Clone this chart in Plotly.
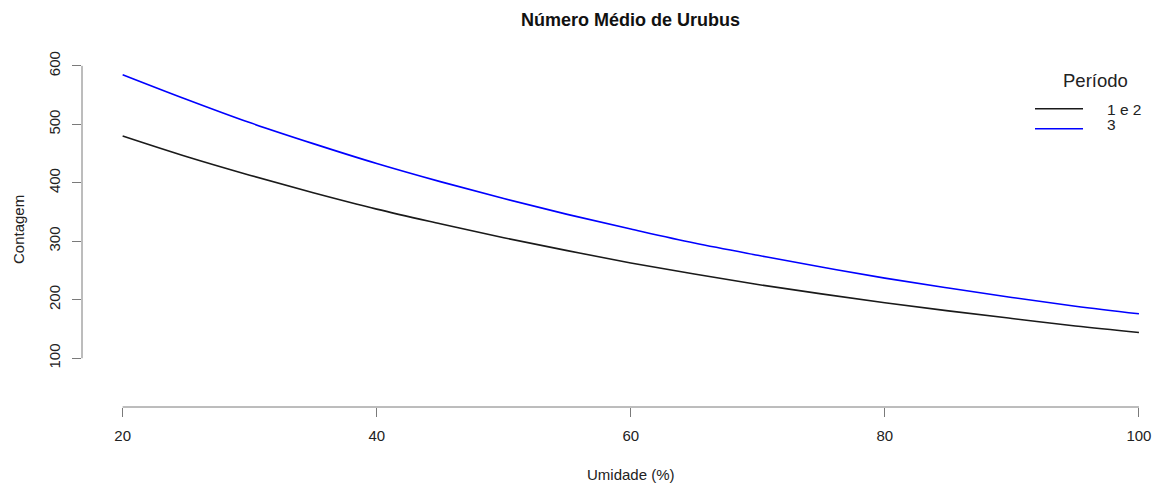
import plotly.graph_objects as go

# Data
umidade = [20, 25, 30, 35, 40, 45, 50, 55, 60, 65, 70, 75, 80, 85, 90, 95, 100]
periodo_12 = [480, 445, 413, 383, 355, 330, 306, 284, 263, 244, 226, 210, 195, 181, 168, 155, 144]
periodo_3 = [585, 543, 503, 467, 433, 402, 373, 346, 321, 297, 276, 256, 237, 220, 204, 189, 176]

x_ticks = [20, 40, 60, 80, 100]
y_ticks = [100, 200, 300, 400, 500, 600]
series_names = ["1 e 2", "3"]
series_colors = ["#1a1a1a", "#0000ff"]

FONT = "Liberation Sans, Arial, Helvetica, sans-serif"
W, H = 1158, 484
L, R, T, B = 82, 0, 53, 77

fig = go.Figure()
for name, ys, col in zip(series_names, [periodo_12, periodo_3], series_colors):
    fig.add_trace(go.Scatter(x=umidade, y=ys, mode="lines", name=name,
                             line=dict(color=col, width=1.6, shape="spline"),
                             showlegend=False))

axis_col = "#7a7a7a"
fig.update_layout(
    width=W, height=H,
    margin=dict(l=L, r=R, t=T, b=B),
    paper_bgcolor="white", plot_bgcolor="white",
    font=dict(family=FONT, size=15, color="#222"),
    xaxis=dict(range=[16.8, 101.5], tickmode="array", tickvals=x_ticks,
               showgrid=False, zeroline=False, showline=False,
               ticks="outside", ticklen=9, tickcolor=axis_col, tickwidth=1,
               ticklabelstandoff=6, tickfont=dict(size=15, color="#222")),
    yaxis=dict(range=[16.6, 622], tickmode="array", tickvals=y_ticks,
               showgrid=False, zeroline=False, showline=False,
               ticks="outside", ticklen=9, tickcolor=axis_col, tickwidth=1,
               tickangle=-90, ticklabelstandoff=6, tickfont=dict(size=15, color="#222")),
)

# R-style axis lines spanning only the tick range
fig.add_shape(type="line", xref="x", yref="paper", x0=x_ticks[0], x1=x_ticks[-1], y0=0, y1=0,
              line=dict(color=axis_col, width=1))
fig.add_shape(type="line", xref="paper", yref="y", x0=0, x1=0, y0=y_ticks[0], y1=y_ticks[-1],
              line=dict(color=axis_col, width=1))

pw = W - L - R
ph = H - T - B
def px(xp):
    return (xp - L) / pw
def py(yp):
    return (H - B - yp) / ph

# Title and axis titles
fig.add_annotation(text="<b>Número Médio de Urubus</b>", xref="x", yref="paper",
                   x=60, y=py(20), showarrow=False, font=dict(size=18, color="#111"),
                   xanchor="center", yanchor="middle")
fig.add_annotation(text="Umidade (%)", xref="x", yref="paper", x=60, y=py(474),
                   showarrow=False, font=dict(size=15, color="#222"),
                   xanchor="center", yanchor="middle")
fig.add_annotation(text="Contagem", xref="paper", yref="paper", x=px(18), y=py(230),
                   showarrow=False, textangle=-90, font=dict(size=15, color="#222"),
                   xanchor="center", yanchor="middle")

# Manual legend
fig.add_annotation(text="Período", xref="paper", yref="paper", x=px(1095), y=py(80),
                   showarrow=False, font=dict(size=18.5, color="#222"),
                   xanchor="center", yanchor="middle")
for name, col, ly, ty in zip(series_names, series_colors, [108.7, 128.7], [109.5, 124]):
    fig.add_shape(type="line", xref="paper", yref="paper", x0=px(1035), x1=px(1083),
                  y0=py(ly), y1=py(ly), line=dict(color=col, width=1.6))
    fig.add_annotation(text=name, xref="paper", yref="paper", x=px(1105), y=py(ty),
                       showarrow=False, font=dict(size=15.5, color="#222"),
                       xanchor="left", yanchor="middle")

fig.write_html("out.html", post_script="document.body.style.margin='0';",
               config={"displayModeBar": False})
